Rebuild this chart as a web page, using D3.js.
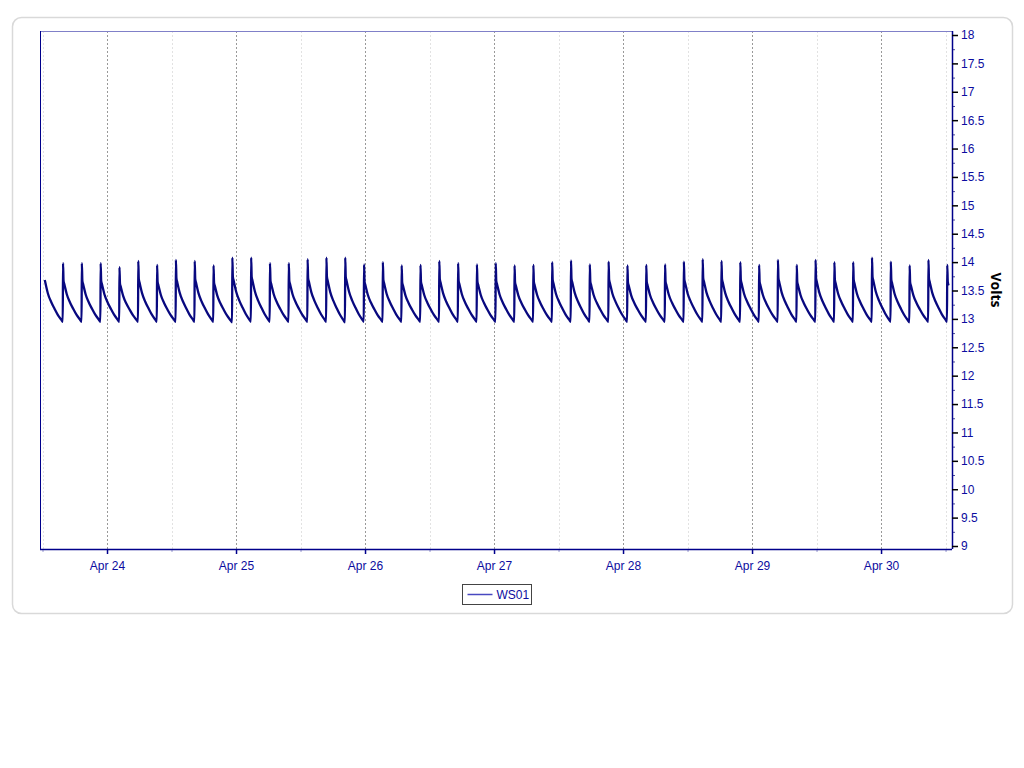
<!DOCTYPE html>
<html><head><meta charset="utf-8">
<script src="https://cdn.jsdelivr.net/npm/d3@7"></script>
<style>
html,body{margin:0;padding:0;background:#fff;}
svg{display:block;font-family:"Liberation Sans",Arial,sans-serif;}
</style></head><body>
<svg id="chart" width="1024" height="768"></svg>
<script>
// ---- data ----
const seriesName = "WS01";
const firstPeakTime = new Date(2024, 3, 23, 12, 19); // charge peak just before the visible data starts
const cycleHours = 3.5;
// peak voltage of each charge cycle (first entry = cycle whose peak precedes the first sample)
const peakVolts = [14.00,
  13.98, 13.98, 13.98, 13.91, 14.02, 13.95, 14.04, 14.02, 13.94, 14.08,
  14.08, 13.98, 13.98, 14.05, 14.08, 14.08, 13.96, 14.00, 13.94, 13.95, 14.02,
  13.98, 13.96, 13.98, 13.94, 13.95, 14.00, 14.03, 13.96, 14.01, 13.94, 13.95,
  13.96, 14.01, 14.05, 14.02, 14.00, 13.95, 14.04, 13.95, 14.04, 14.00, 14.00,
  14.08, 14.01, 13.94, 14.04, 13.95];
// lowest voltage reached at the end of each cycle
const troughVolts = [12.95,
  12.95, 12.95, 12.95, 12.95, 12.95, 12.95, 12.95, 12.95, 12.94, 12.95,
  12.95, 12.95, 12.95, 12.95, 12.94, 12.95, 12.95, 12.95, 12.95, 12.95, 12.95,
  12.95, 12.95, 12.95, 12.95, 12.95, 12.95, 12.95, 12.95, 12.95, 12.95, 12.95,
  12.95, 12.95, 12.95, 12.95, 12.95, 12.95, 12.95, 12.95, 12.95, 12.95, 12.95,
  12.95, 12.94, 12.95, 12.95, 12.95];
// discharge shape within a cycle (hours after the peak, share of the peak-to-trough span left)
const dischargeHours = [0, 0.1, 0.25, 0.4, 0.7, 1.3, 1.9, 2.5, 3.2, 3.45];
const dischargeShare = [1, 0.70, 0.64, 0.58, 0.47, 0.33, 0.22, 0.12, 0.03, 0];
const yTicks = [9, 9.5, 10, 10.5, 11, 11.5, 12, 12.5, 13, 13.5, 14, 14.5, 15, 15.5, 16, 16.5, 17, 17.5, 18];
const dayTicks = [24, 25, 26, 27, 28, 29, 30].map(d => new Date(2024, 3, d));
const noonTicks = [23, 24, 25, 26, 27, 28, 29, 30].map(d => new Date(2024, 3, d, 12));
const xDomain = [new Date(2024, 3, 23, 11, 32), new Date(2024, 3, 30, 13, 12)];
const yDomain = [9, 18];

// ---- build series ----
const HOUR = 3600 * 1000;
const series = [];
peakVolts.forEach((p, i) => {
  const t0 = firstPeakTime.getTime() + i * cycleHours * HOUR;
  const tr = troughVolts[i];
  dischargeHours.forEach((h, j) => {
    if (i === 0 && j === 0) return;
    if (i === peakVolts.length - 1 && j > 2) return;
    series.push({t: new Date(t0 + h * HOUR), v: tr + (p - tr) * dischargeShare[j]});
  });
});

// ---- layout ----
const svg = d3.select("#chart");
const L = 40, R = 952, T = 31, B = 549;
const navy = "#00008b", labelCol = "#0c0ca0";

svg.append("rect").attr("x", 12.5).attr("y", 17.5).attr("width", 1000).attr("height", 596)
  .attr("rx", 9).attr("fill", "#fff").attr("stroke", "#d9d9d9").attr("stroke-width", 1.5);

const x = d3.scaleTime().domain(xDomain).range([L, R]);
const y = d3.scaleLinear().domain(yDomain).range([546, 35]);

// grid
const grid = svg.append("g");
grid.selectAll("line.noon").data(noonTicks).join("line")
  .attr("x1", d => Math.round(x(d)) + 0.5).attr("x2", d => Math.round(x(d)) + 0.5)
  .attr("y1", T).attr("y2", B).attr("stroke", "#e2e2e2").attr("stroke-dasharray", "2,2");
grid.selectAll("line.day").data(dayTicks).join("line")
  .attr("x1", d => Math.round(x(d)) + 0.5).attr("x2", d => Math.round(x(d)) + 0.5)
  .attr("y1", T).attr("y2", B).attr("stroke", "#999").attr("stroke-dasharray", "2,2");

// frame
svg.append("line").attr("x1", L).attr("x2", R).attr("y1", T + 0.5).attr("y2", T + 0.5).attr("stroke", "#8080c8");
svg.append("line").attr("x1", L + 0.5).attr("x2", L + 0.5).attr("y1", T).attr("y2", B).attr("stroke", navy);

// line
const line = d3.line().x(d => x(d.t)).y(d => y(d.v)).curve(d3.curveMonotoneX);
svg.append("path").datum(series).attr("d", line).attr("fill", "none")
  .attr("stroke", "#08087f").attr("stroke-width", 2.3).attr("stroke-linejoin", "round");

// x axis
const xMinor = svg.append("g").attr("transform", `translate(0,${B})`)
  .call(d3.axisBottom(x).tickValues(noonTicks).tickSize(3).tickFormat(""));
xMinor.select(".domain").remove();
xMinor.selectAll(".tick line").attr("stroke", "#9a9ad0");
const xAxis = svg.append("g").attr("transform", `translate(0,${B})`)
  .call(d3.axisBottom(x).tickValues(dayTicks).tickSize(5).tickPadding(7).tickFormat(d3.timeFormat("%b %d")));
xAxis.select(".domain").attr("stroke", navy).attr("stroke-width", 1.5).attr("d", `M${L},0.5H${R}`);
xAxis.selectAll(".tick line").attr("stroke", navy).attr("stroke-width", 1.5);
xAxis.selectAll("text").attr("fill", labelCol).attr("font-size", 12)
  .attr("font-family", "'Liberation Sans',Arial,sans-serif");

// y axis (right)
const quarter = d3.range(36).map(i => 9 + i * 0.25).filter(v => v % 0.5 !== 0);
const yMinor = svg.append("g").attr("transform", `translate(${R},0)`)
  .call(d3.axisRight(y).tickValues(quarter).tickSize(3).tickFormat(""));
yMinor.select(".domain").remove();
yMinor.selectAll(".tick line").attr("stroke", "#4a4a9a");
const yAxis = svg.append("g").attr("transform", `translate(${R},0)`)
  .call(d3.axisRight(y).tickValues(yTicks).tickSize(6).tickPadding(3).tickFormat(d3.format("")));
yAxis.select(".domain").attr("stroke", navy).attr("stroke-width", 1.5).attr("d", `M0.5,${T}V${B}`);
yAxis.selectAll(".tick line").attr("stroke", "#000").attr("stroke-width", 1.5);
yAxis.selectAll("text").attr("fill", labelCol).attr("font-size", 12)
  .attr("font-family", "'Liberation Sans',Arial,sans-serif");

svg.append("text").attr("transform", "translate(991,290) rotate(90)")
  .attr("text-anchor", "middle").attr("font-weight", "bold").attr("font-size", 14)
  .attr("font-family", "'Open Sans','DejaVu Sans',sans-serif").attr("fill", "#000").text("Volts");

// legend
const lg = svg.append("g").attr("transform", "translate(462.5,584.5)");
lg.append("rect").attr("width", 69).attr("height", 20).attr("fill", "#fff").attr("stroke", "#444");
lg.append("line").attr("x1", 5).attr("x2", 30).attr("y1", 10).attr("y2", 10).attr("stroke", "#4848c0").attr("stroke-width", 1.5);
lg.append("text").attr("x", 34).attr("y", 14.5).attr("font-size", 12).attr("fill", labelCol).text(seriesName);
</script>
</body></html>
